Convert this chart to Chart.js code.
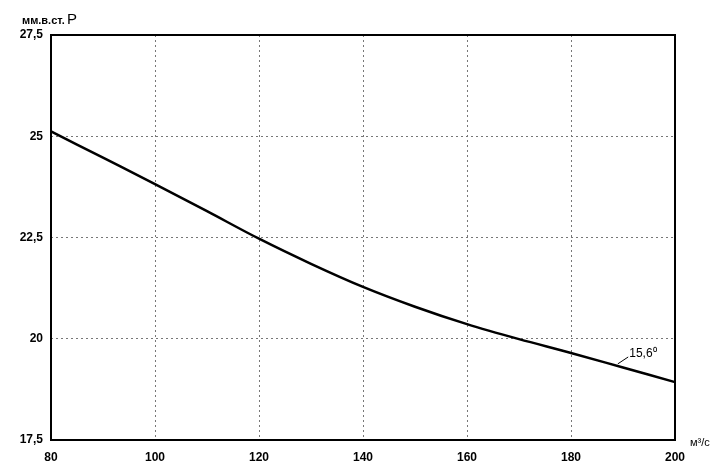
<!DOCTYPE html>
<html>
<head>
<meta charset="utf-8">
<script src="https://cdn.jsdelivr.net/npm/chart.js@4"></script>
<style>
  html, body { margin: 0; padding: 0; background: #fff; }
  #wrap { width: 718px; height: 476px; }
</style>
</head>
<body>
<div id="wrap"><canvas id="grafico" width="718" height="476"></canvas></div>
<script>
// Расход, м³/с
const rashod = [80, 90, 100, 110, 120, 130, 140, 150, 160, 170, 180, 190, 200];
// Давление, мм.в.ст.
const davlenie = [25.12, 24.47, 23.82, 23.15, 22.47, 21.85, 21.28, 20.79, 20.36, 19.99, 19.65, 19.29, 18.93];
const yTicks = [17.5, 20, 22.5, 25, 27.5];
const xTicks = [80, 100, 120, 140, 160, 180, 200];
const podpisKrivoy = '15,6⁰';

// Рамка и подписи
const podpisi = {
  id: 'podpisi',
  afterDraw(chart) {
    const { ctx, chartArea: a, scales: { x, y } } = chart;
    ctx.save();
    ctx.strokeStyle = '#000';
    ctx.lineWidth = 2;
    ctx.strokeRect(a.left, a.top, a.right - a.left, a.bottom - a.top);

    ctx.fillStyle = '#000';
    ctx.font = 'bold 11px "Liberation Sans", Arial, sans-serif';
    ctx.textBaseline = 'alphabetic';
    ctx.textAlign = 'left';
    ctx.fillText('мм.в.ст.', 22, 24);
    ctx.font = '15px "Liberation Sans", Arial, sans-serif';
    ctx.fillText('Р', 67, 24);

    ctx.font = '11px "Liberation Sans", Arial, sans-serif';
    ctx.fillText('м³/с', 690, 446);

    // подпись кривой
    ctx.font = '12px "Liberation Sans", Arial, sans-serif';
    ctx.fillText(podpisKrivoy, x.getPixelForValue(191.2), y.getPixelForValue(19.55));
    ctx.lineWidth = 1;
    ctx.beginPath();
    ctx.moveTo(x.getPixelForValue(189), y.getPixelForValue(19.38));
    ctx.lineTo(x.getPixelForValue(191), y.getPixelForValue(19.55));
    ctx.stroke();
    ctx.restore();
  }
};

new Chart(document.getElementById('grafico'), {
  type: 'line',
  data: {
    datasets: [{
      data: rashod.map((v, i) => ({ x: v, y: davlenie[i] })),
      borderColor: '#000',
      borderWidth: 2.5,
      pointRadius: 0,
      cubicInterpolationMode: 'monotone',
      fill: false,
      clip: 8
    }]
  },
  options: {
    responsive: false,
    animation: false,
    layout: { padding: { top: 35, right: 43, left: 0, bottom: 0 } },
    plugins: { legend: { display: false }, tooltip: { enabled: false } },
    scales: {
      x: {
        type: 'linear',
        min: 80,
        max: 200,
        afterBuildTicks: s => { s.ticks = xTicks.map(v => ({ value: v })); },
        afterFit: s => { s.height = 36; },
        grid: { color: '#777', lineWidth: 1, drawTicks: false },
        border: { display: false, dash: [2, 3] },
        ticks: {
          color: '#000',
          font: { family: '"Liberation Sans", Arial, sans-serif', size: 12, weight: 'bold' },
          padding: 10,
          maxRotation: 0,
          callback: v => String(v)
        }
      },
      y: {
        min: 17.5,
        max: 27.5,
        afterBuildTicks: s => { s.ticks = yTicks.map(v => ({ value: v })); },
        afterFit: s => { s.width = 51; },
        grid: { color: '#777', lineWidth: 1, drawTicks: false },
        border: { display: false, dash: [2, 3] },
        ticks: {
          color: '#000',
          font: { family: '"Liberation Sans", Arial, sans-serif', size: 12, weight: 'bold' },
          padding: 8,
          callback: v => String(v).replace('.', ',')
        }
      }
    }
  },
  plugins: [podpisi]
});
</script>
</body>
</html>
